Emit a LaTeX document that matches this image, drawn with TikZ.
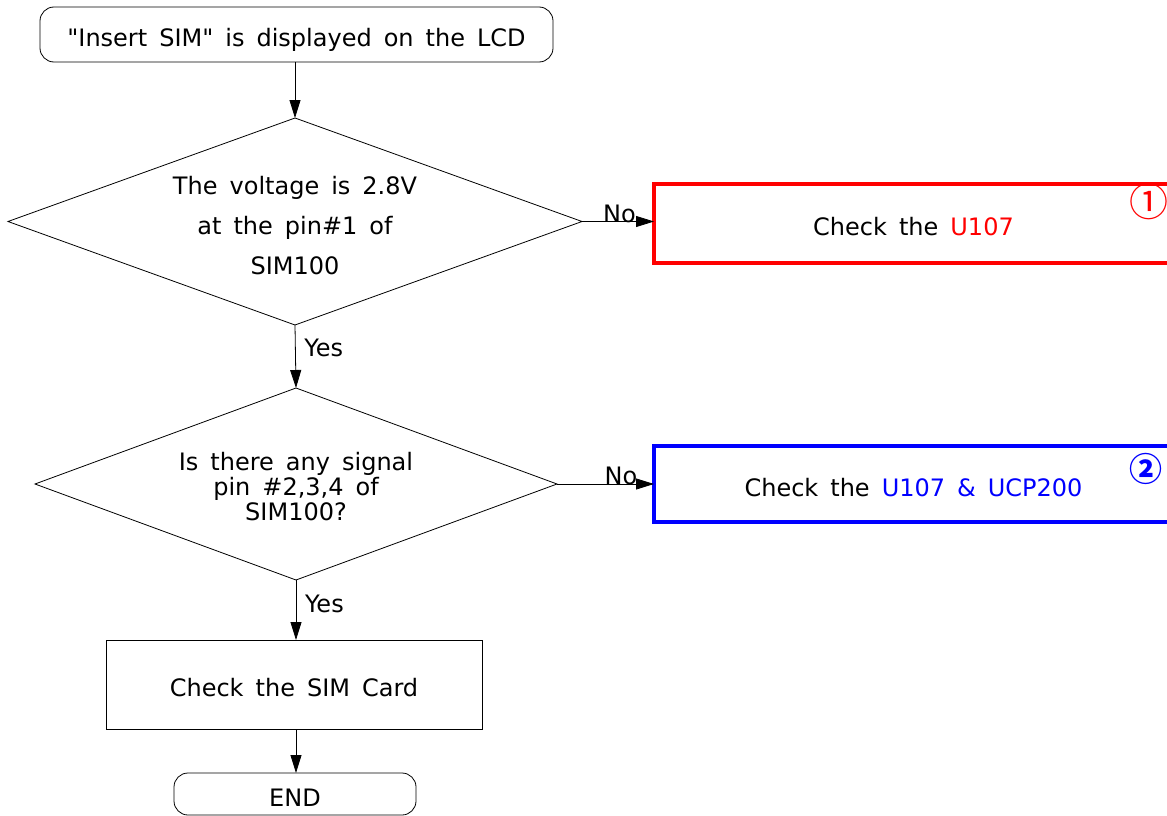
\documentclass[tikz,border=0pt]{standalone}
\usepackage{fontspec}
\setmainfont{DejaVu Sans}[Ligatures=TeXOff]
\newfontfamily\cjk{Noto Sans CJK SC}
\usetikzlibrary{shapes.geometric,arrows.meta}
\definecolor{cred}{RGB}{255,0,0}
\definecolor{cblue}{RGB}{0,0,255}
\newcommand{\myfnt}{\fontsize{24}{29}\selectfont\spaceskip=12pt plus 1pt\relax}
\tikzset{
  base/.style={font=\myfnt, inner sep=0pt, outer sep=0pt},
  one/.style={text height=24pt, text depth=0pt},
  term/.style={base, one, draw, rounded corners=14pt, line width=0.8pt},
  decision/.style={base, draw, diamond, line width=0.8pt},
  dtext/.style={base, align=center},
  proc/.style={base, one, draw, rectangle, line width=0.8pt},
  redbox/.style={base, one, draw=cred, rectangle, line width=4pt},
  bluebox/.style={base, one, draw=cblue, rectangle, line width=4pt},
  arr/.style={line width=0.8pt, -{Triangle[length=18pt,width=11pt]}},
  lbl/.style={base},
}
\begin{document}
\begin{tikzpicture}[x=1pt,y=-1pt]
\useasboundingbox (0,0) rectangle (1167,816);
\node[term, minimum width=513pt, minimum height=55pt] (start) at (296.5,34.5) {"Insert SIM" is displayed on the LCD};
\node[decision, minimum width=574pt, minimum height=207pt] (d1) at (295,221.5) {};
\node[dtext] (t1) at (295,226) {The voltage is 2.8V\\[11pt] at the pin\#1 of\\[11pt] SIM100};
\node[decision, minimum width=522pt, minimum height=192pt] (d2) at (296,484) {};
\node[dtext] (t2) at (296,487) {Is there any signal\\[-4pt] pin \#2,3,4 of\\[-4pt] SIM100?};
\node[redbox, minimum width=523pt, minimum height=79pt, anchor=west] (c1) at (654,223.5) {\hspace*{-4pt}Check the \textcolor{cred}{U107}};
\node[bluebox, minimum width=523pt, minimum height=76pt, anchor=west] (c2) at (654,484) {\hspace*{-4pt}Check the \textcolor{cblue}{U107 \& UCP200}};
\node[proc, minimum width=376pt, minimum height=89pt] (card) at (294,684.5) {Check the SIM Card};
\node[term, minimum width=242pt, minimum height=42pt] (end) at (295,794) {END};
\node[base, text=cred, font=\cjk\fontsize{39}{39}\selectfont] (n1) at (1149,202) {①};
\node[base, text=cblue, font=\cjk\bfseries\fontsize{33}{33}\selectfont] (n2) at (1145.5,468.5) {②};
\draw[arr] (start.south -| d1.north) -- (d1.north);
\draw[arr] (d1.east) -- (d1.east -| c1.west) node[lbl, pos=0.52, above=-1pt] (no1) {No};
\draw[arr] (d1.south) -- (d2.north) node[lbl, pos=0.37, right=9pt] (yes1) {Yes};
\draw[arr] (d2.east) -- (d2.east -| c2.west) node[lbl, pos=0.66, above=-1pt] (no2) {No};
\draw[arr] (d2.south) -- (d2.south |- card.north) node[lbl, pos=0.4, right=9pt] (yes2) {Yes};
\draw[arr] (card.south -| d2.south) -- (end.north -| d2.south);
\end{tikzpicture}
\end{document}
